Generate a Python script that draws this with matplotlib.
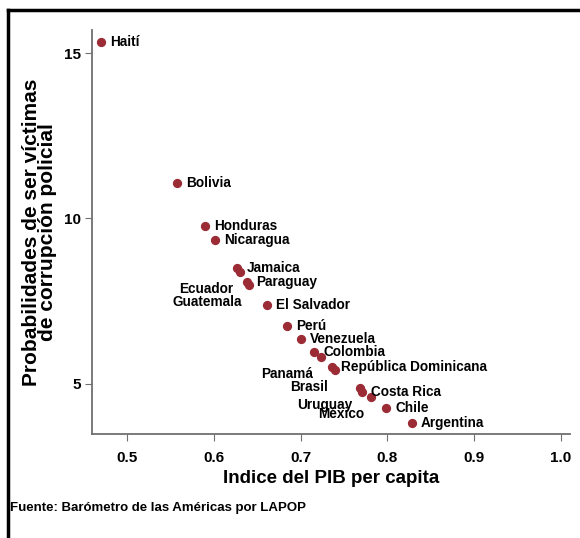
import matplotlib.pyplot as plt
from matplotlib import font_manager
from matplotlib.lines import Line2D

# datos
paises = ["Haití", "Bolivia", "Honduras", "Nicaragua", "Jamaica", "Ecuador",
          "Paraguay", "Guatemala", "El Salvador", "Perú", "Venezuela",
          "Colombia", "Panamá", "República Dominicana", "Brasil", "Uruguay",
          "Costa Rica", "México", "Chile", "Argentina"]
pib = [0.470, 0.558, 0.590, 0.601, 0.627, 0.630, 0.638, 0.641, 0.661, 0.684,
       0.700, 0.716, 0.723, 0.736, 0.740, 0.768, 0.771, 0.781, 0.799, 0.828]
prob = [15.34, 11.07, 9.77, 9.36, 8.51, 8.37, 8.09, 8.00, 7.39, 6.76,
        6.34, 5.97, 5.80, 5.52, 5.42, 4.86, 4.76, 4.61, 4.28, 3.81]
# "d" = derecha, "i" = abajo a la izquierda
posicion = ["d", "d", "d", "d", "d", "i", "d", "i", "d", "d",
            "d", "d", "i", "d", "i", "i", "d", "i", "d", "d"]

xticks = [0.5, 0.6, 0.7, 0.8, 0.9, 1.0]
yticks = [5, 10, 15]

names = {f.name for f in font_manager.fontManager.ttflist}
fuente = "Liberation Sans Narrow" if "Liberation Sans Narrow" in names else "Liberation Sans"
plt.rcParams['font.family'] = [fuente, "DejaVu Sans"]
plt.rcParams['font.weight'] = 'bold'

fig = plt.figure(figsize=(5.8, 5.38), dpi=100)
ax = fig.add_axes([0.1586, 0.1933, 0.8242, 0.7509])

ax.scatter(pib, prob, s=32, color='#9b2c36', zorder=3)

for p, x, y, pos in zip(paises, pib, prob, posicion):
    if pos == "d":
        ax.annotate(p, (x, y), xytext=(9, 0), textcoords='offset pixels',
                    ha='left', va='center', fontsize=9.8, fontweight='bold')
    else:
        ax.annotate(p, (x, y), xytext=(-7, -17), textcoords='offset pixels',
                    ha='right', va='center', fontsize=9.8, fontweight='bold')

ax.set_xlim(0.4594, 1.0107)
ax.set_ylim(3.48, 15.7)
ax.set_xticks(xticks)
ax.set_xticklabels([f"{t:.1f}" for t in xticks])
ax.set_yticks(yticks)
ax.set_yticklabels([str(t) for t in yticks])

for s in ['top', 'right']:
    ax.spines[s].set_visible(False)
for s in ['left', 'bottom']:
    ax.spines[s].set_color('#707070')
    ax.spines[s].set_linewidth(1.3)

ax.tick_params(axis='x', length=5, width=0.8, color='#707070', pad=7, labelsize=11)
ax.tick_params(axis='y', length=5, width=0.8, color='#707070', pad=3, labelsize=11)
for lab in ax.get_xticklabels() + ax.get_yticklabels():
    lab.set_fontweight('bold')

ax.set_xlabel("Indice del PIB per capita", fontsize=13.5, fontweight='bold', labelpad=4)
ax.set_ylabel("Probabilidades de ser víctimas\nde corrupción policial",
              fontsize=15, fontweight='bold', labelpad=5, linespacing=0.82)

fig.text(0.017, 0.055, "Fuente: Barómetro de las Américas por LAPOP",
         fontsize=9.5, fontweight='bold', ha='left', va='center')

# marco
fig.add_artist(Line2D([0.014, 0.014], [0.0, 0.981], color='black', lw=2.5,
                      transform=fig.transFigure))
fig.add_artist(Line2D([0.014, 1.0], [0.981, 0.981], color='black', lw=2.5,
                      transform=fig.transFigure))

fig.savefig("out.png", dpi=100)
